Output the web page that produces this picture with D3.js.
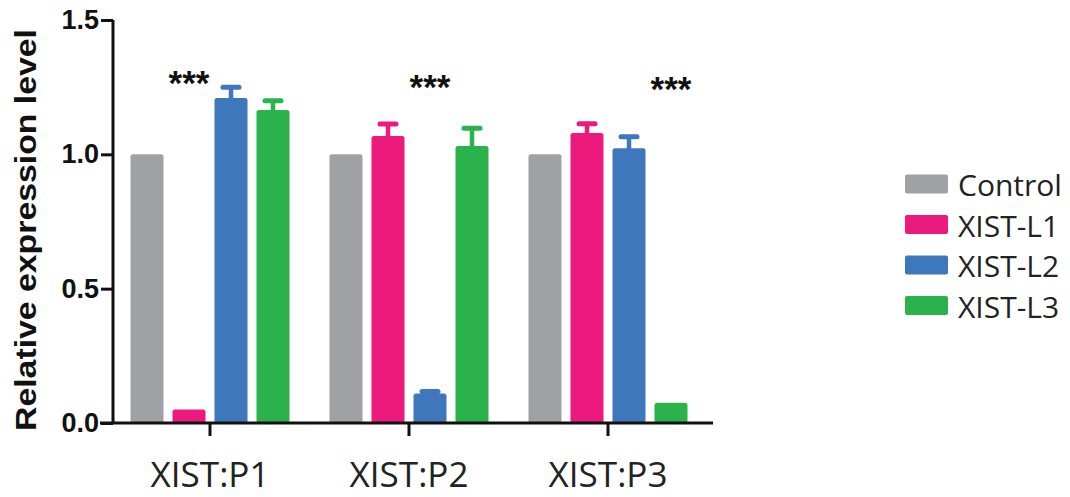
<!DOCTYPE html>
<html>
<head>
<meta charset="utf-8">
<script src="https://cdn.jsdelivr.net/npm/d3@7"></script>
<style>
  html, body { margin: 0; padding: 0; background: #fff; }
  svg { display: block; }
</style>
</head>
<body>
<svg id="chart" width="1070" height="497"></svg>
<script>
// Primer groups along the x axis
const categories = ["XIST:P1", "XIST:P2", "XIST:P3"];
// Cell lines (one bar each per group)
const series = ["Control", "XIST-L1", "XIST-L2", "XIST-L3"];
const colors = ["#a0a1a5", "#ec1a7d", "#3f77bc", "#2cb24b"];

// Mean relative expression, one array per cell line, ordered as categories
const controlValues = [1.0, 1.0, 1.0];
const l1Values      = [0.05, 1.068, 1.079];
const l2Values      = [1.21, 0.11, 1.023];
const l3Values      = [1.165, 1.031, 0.075];

// Upper error (SD) per bar
const controlErr = [0, 0, 0];
const l1Err      = [0.003, 0.045, 0.035];
const l2Err      = [0.04, 0.007, 0.042];
const l3Err      = [0.034, 0.066, 0.002];

// Significance annotations: which bar they sit over and at what level
const starSeries = ["XIST-L1", "XIST-L2", "XIST-L3"];
const starLevels = [1.285, 1.27, 1.262];
const starText = "***";

const yTicks = [0.0, 0.5, 1.0, 1.5];
const yTitle = "Relative expression level";

const valuesBySeries = [controlValues, l1Values, l2Values, l3Values];
const errBySeries = [controlErr, l1Err, l2Err, l3Err];

const rows = [];
categories.forEach((c, ci) => {
  series.forEach((s, si) => {
    rows.push({ cat: c, ser: s, value: valuesBySeries[si][ci], err: errBySeries[si][ci], color: colors[si] });
  });
});

const svg = d3.select("#chart");

const axisX = 113, axisEnd = 713;
const y = d3.scaleLinear().domain([0, 1.5]).range([423, 20]);
const x0 = d3.scaleBand().domain(categories).range([110.5, 707.5]).padding(0);
const groupSpan = 168;
const x1 = d3.scaleBand().domain(series)
  .range([x0.bandwidth() / 2 - groupSpan / 2, x0.bandwidth() / 2 + groupSpan / 2])
  .paddingInner(0.214).paddingOuter(0.107);

// Bars
const bars = svg.append("g");
bars.selectAll("rect").data(rows).join("rect")
  .attr("x", d => x0(d.cat) + x1(d.ser))
  .attr("y", d => y(d.value))
  .attr("width", x1.bandwidth())
  .attr("height", d => y(0) - y(d.value))
  .attr("rx", 2.5)
  .attr("fill", d => d.color);

// Upper error bars with caps (very small SDs hide inside the bar top)
const errs = svg.append("g");
rows.filter(d => d.err > 0.005).forEach(d => {
  const cx = x0(d.cat) + x1(d.ser) + x1.bandwidth() / 2;
  errs.append("line")
    .attr("x1", cx).attr("x2", cx)
    .attr("y1", y(d.value) + 2).attr("y2", y(d.value + d.err))
    .attr("stroke", d.color).attr("stroke-width", 4.5);
  errs.append("line")
    .attr("x1", cx - 8).attr("x2", cx + 8)
    .attr("y1", y(d.value + d.err)).attr("y2", y(d.value + d.err))
    .attr("stroke", d.color).attr("stroke-width", 5)
    .attr("stroke-linecap", "round");
});

// Y axis
const yAxis = d3.axisLeft(y).tickValues(yTicks).tickFormat(d3.format(".1f"))
  .tickSize(12).tickPadding(2);
const gy = svg.append("g").attr("transform", `translate(${axisX},0)`).call(yAxis);
gy.select(".domain").attr("d", `M0,${y(1.5)}V${y(0)}`)
  .attr("stroke", "#111").attr("stroke-width", 3);
gy.selectAll(".tick line").attr("stroke", "#111").attr("stroke-width", 3);
gy.selectAll(".tick text")
  .attr("fill", "#111")
  .style("font-family", "'Liberation Sans', Arial, sans-serif")
  .style("font-weight", "bold")
  .style("font-size", "27px");

// X axis
const xAxis = d3.axisBottom(x0).tickSize(13).tickPadding(0).tickFormat(() => "");
const gx = svg.append("g").attr("transform", `translate(0,${y(0)})`).call(xAxis);
gx.select(".domain").attr("d", `M${axisX - 13},0H${axisEnd}`)
  .attr("stroke", "#111").attr("stroke-width", 3);
gx.selectAll(".tick line").attr("stroke", "#111").attr("stroke-width", 3);
gx.selectAll(".tick").append("text")
  .attr("x", 0).attr("y", 64)
  .attr("text-anchor", "middle")
  .attr("fill", "#222")
  .attr("textLength", 119)
  .attr("lengthAdjust", "spacingAndGlyphs")
  .style("font-family", "'Open Sans', sans-serif")
  .style("font-size", "35px")
  .text(d => d);

// Y axis title
svg.append("text")
  .attr("transform", "translate(36,230) rotate(-90)")
  .attr("text-anchor", "middle")
  .attr("fill", "#111")
  .attr("textLength", 402)
  .attr("lengthAdjust", "spacingAndGlyphs")
  .style("font-family", "'Liberation Sans', Arial, sans-serif")
  .style("font-weight", "bold")
  .style("font-size", "29px")
  .text(yTitle);

// Significance stars
svg.append("g").selectAll("text").data(categories).join("text")
  .attr("x", (c, i) => x0(c) + x1(starSeries[i]) + x1.bandwidth() / 2)
  .attr("y", (c, i) => y(starLevels[i]) + 17)
  .attr("text-anchor", "middle")
  .attr("fill", "#111")
  .style("font-family", "'Liberation Sans', Arial, sans-serif")
  .style("font-weight", "bold")
  .style("font-size", "35px")
  .text(starText);

// Legend
const legend = svg.append("g").attr("transform", "translate(905,184)");
const item = legend.selectAll("g").data(series).join("g")
  .attr("transform", (d, i) => `translate(0,${i * 40.5})`);
item.append("rect")
  .attr("x", 0).attr("y", -9.5).attr("width", 43).attr("height", 19)
  .attr("rx", 2).attr("fill", (d, i) => colors[i]);
item.append("text")
  .attr("x", 53).attr("y", 12)
  .attr("fill", "#222")
  .style("font-family", "'Open Sans', sans-serif")
  .style("font-size", "30px")
  .text(d => d);
</script>
</body>
</html>
